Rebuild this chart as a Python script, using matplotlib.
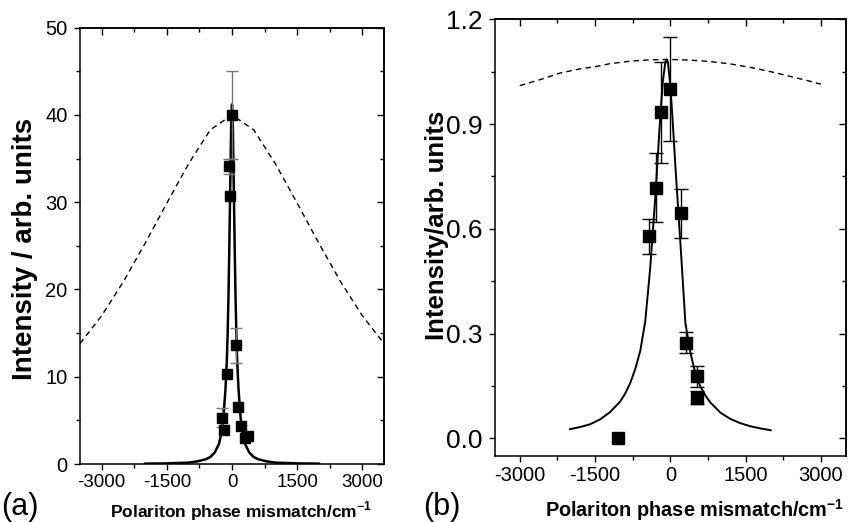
import numpy as np
import matplotlib
matplotlib.use("Agg")
import matplotlib.pyplot as plt
from matplotlib.ticker import MultipleLocator

plt.rcParams['font.family'] = ['Liberation Sans', 'DejaVu Sans']
plt.rcParams['mathtext.fontset'] = 'custom'
plt.rcParams['mathtext.rm'] = 'Liberation Sans'
plt.rcParams['mathtext.bf'] = 'Liberation Sans:bold'
plt.rcParams['axes.unicode_minus'] = False

# ---------------- Panel (a) data ----------------
a_pts_x = [0, -69, -54, 84, -107, -222, -184, 130, 207, 291, 360]
a_pts_y = [40.0, 34.1, 30.7, 13.6, 10.3, 5.3, 3.9, 6.5, 4.4, 2.95, 3.2]
a_pts_err = [5.0, 0.9, 0, 2.0, 0, 1.1, 0, 0, 0, 0, 0]

a_fit_x = [-2000, -1500, -1000, -800, -600, -500, -400, -300, -250, -200, -150,
           -120, -100, -80, -60, -40, -20, 0, 20, 40, 60, 80, 100, 120, 150,
           200, 250, 300, 400, 500, 600, 800, 1000, 1500, 2000]
a_fit_y = [0.04, 0.07, 0.16, 0.3, 0.55, 0.8, 1.3, 2.3, 3.4, 5.2, 8.6,
           11.7, 15.0, 19.5, 25.5, 32.0, 38.5, 41.2, 38.5, 32.0, 25.5, 19.5, 15.0, 11.7, 8.6,
           5.2, 3.4, 2.3, 1.3, 0.8, 0.55, 0.3, 0.16, 0.07, 0.04]

a_dash_x = [-3500, -3000, -2500, -2000, -1500, -1000, -500, 0,
            500, 1000, 1500, 2000, 2500, 3000, 3500]
a_dash_y = [13.8, 17.0, 20.9, 25.3, 29.9, 34.4, 38.3, 40.0,
            38.3, 34.4, 29.9, 25.3, 20.9, 17.0, 13.8]

# ---------------- Panel (b) data ----------------
b_pts_x = [0, -190, -293, -420, 220, 320, 526, 540, -1040]
b_pts_y = [1.0, 0.934, 0.718, 0.579, 0.644, 0.273, 0.178, 0.116, 0.0]
b_pts_err = [0.15, 0.145, 0.10, 0.05, 0.07, 0.03, 0.03, 0.018, 0]

b_fit_x = [-2000, -1800, -1600, -1400, -1200, -1000, -900, -800, -700, -600,
           -500, -400, -300, -200, -150, -100, -75, -50, 0, 50, 100, 200,
           300, 400, 500, 600, 700, 800, 1000, 1200, 1400, 1600, 1800, 2000]
b_fit_y = [0.026, 0.032, 0.040, 0.054, 0.075, 0.105, 0.128, 0.158, 0.198, 0.250,
           0.335, 0.490, 0.690, 0.924, 1.021, 1.078, 1.085, 1.078, 1.010, 0.900, 0.780, 0.560,
           0.330, 0.245, 0.185, 0.148, 0.122, 0.102, 0.073, 0.055, 0.043, 0.034, 0.028, 0.023]

b_dash_x = [-3000, -2600, -2200, -1800, -1465, -1200, -800, -400, 0,
            400, 800, 1200, 1600, 2000, 2400, 2800, 3000]
b_dash_y = [1.010, 1.027, 1.046, 1.058, 1.065, 1.073, 1.080, 1.084, 1.085,
            1.083, 1.079, 1.072, 1.062, 1.050, 1.036, 1.022, 1.014]

W, H = 848, 522
fig = plt.figure(figsize=(W / 100, H / 100), dpi=100)


def box(l, t, r, b):
    return [l / W, 1 - b / H, (r - l) / W, (b - t) / H]


def style(ax, xmaj, xmin, ymaj, ymin, fsx, fsy):
    ax.xaxis.set_major_locator(MultipleLocator(xmaj))
    ax.xaxis.set_minor_locator(MultipleLocator(xmin))
    ax.yaxis.set_major_locator(MultipleLocator(ymaj))
    ax.yaxis.set_minor_locator(MultipleLocator(ymin))
    ax.tick_params(which='both', direction='out', width=1.0)
    ax.tick_params(axis='x', pad=3.5, labelsize=fsx)
    ax.tick_params(axis='y', pad=5, labelsize=fsy)
    ax.tick_params(which='major', length=4)
    ax.tick_params(which='minor', length=3)
    for s in ax.spines.values():
        s.set_linewidth(1.1)
    top = ax.secondary_xaxis('top')
    top.xaxis.set_major_locator(MultipleLocator(xmaj))
    top.xaxis.set_minor_locator(MultipleLocator(xmin))
    top.tick_params(which='both', direction='in', labeltop=False, width=1.0)
    top.tick_params(which='major', length=5)
    top.tick_params(which='minor', length=3)
    right = ax.secondary_yaxis('right')
    right.yaxis.set_major_locator(MultipleLocator(ymaj))
    right.yaxis.set_minor_locator(MultipleLocator(ymin))
    right.tick_params(which='both', direction='in', labelright=False, width=1.0)
    right.tick_params(which='major', length=5)
    right.tick_params(which='minor', length=3)
    top.spines['top'].set_linewidth(1.1)
    right.spines['right'].set_linewidth(1.1)


# ---- Panel (a)
ax = fig.add_axes(box(80, 27.7, 384, 464))
ax.plot(a_dash_x, a_dash_y, color='black', lw=1.0, ls=(0, (4, 3)))
ax.plot(a_fit_x, a_fit_y, color='black', lw=1.8, solid_joinstyle='round')
ex = [x for x, e in zip(a_pts_x, a_pts_err) if e > 0]
ey = [y for y, e in zip(a_pts_y, a_pts_err) if e > 0]
ee = [e for e in a_pts_err if e > 0]
ax.errorbar(ex, ey, yerr=ee, fmt='none', ecolor='#777777', elinewidth=1.0,
            capsize=4, capthick=1.0)
ax.plot(a_pts_x, a_pts_y, 's', color='black', ms=6.5)
ax.set_xlim(-3500, 3500)
ax.set_ylim(0, 50)
style(ax, 1500, 750, 10, 5, 13.5, 14.5)
fig.text(25 / W, 1 - 249 / H, 'Intensity / arb. units', rotation=90, fontsize=20,
         fontweight='bold', ha='center', va='center')
fig.text(110 / W, 1 - 511 / H, r'Polariton phase mismatch/cm$^{\mathbf{-1}}$',
         fontsize=12.5, fontweight='bold', ha='left', va='center')
fig.text(1 / W, 1 - 507 / H, '(a)', fontsize=22, ha='left', va='center')

# ---- Panel (b)
bx = fig.add_axes(box(494.7, 19.3, 846, 455.7))
bx.plot(b_dash_x, b_dash_y, color='black', lw=1.0, ls=(0, (4, 3)))
bx.plot(b_fit_x, b_fit_y, color='black', lw=1.4, solid_joinstyle='round')
ex = [x for x, e in zip(b_pts_x, b_pts_err) if e > 0]
ey = [y for y, e in zip(b_pts_y, b_pts_err) if e > 0]
ee = [e for e in b_pts_err if e > 0]
bx.errorbar(ex, ey, yerr=ee, fmt='none', ecolor='black', elinewidth=1.0,
            capsize=5, capthick=1.0)
bx.plot(b_pts_x, b_pts_y, 's', color='black', ms=8)
bx.set_xlim(-3500, 3500)
bx.set_ylim(-0.05, 1.2)
style(bx, 1500, 750, 0.3, 0.15, 14.5, 19)
bx.yaxis.set_major_formatter(matplotlib.ticker.FormatStrFormatter('%.1f'))
fig.text(437 / W, 1 - 225 / H, 'Intensity/arb. units', rotation=90, fontsize=18.5,
         fontweight='bold', ha='center', va='center')
fig.text(545 / W, 1 - 510 / H, r'Polariton phase mismatch/cm$^{\mathbf{-1}}$',
         fontsize=14.3, fontweight='bold', ha='left', va='center')
fig.text(423 / W, 1 - 507 / H, '(b)', fontsize=22, ha='left', va='center')

fig.savefig('out.png', dpi=100)
